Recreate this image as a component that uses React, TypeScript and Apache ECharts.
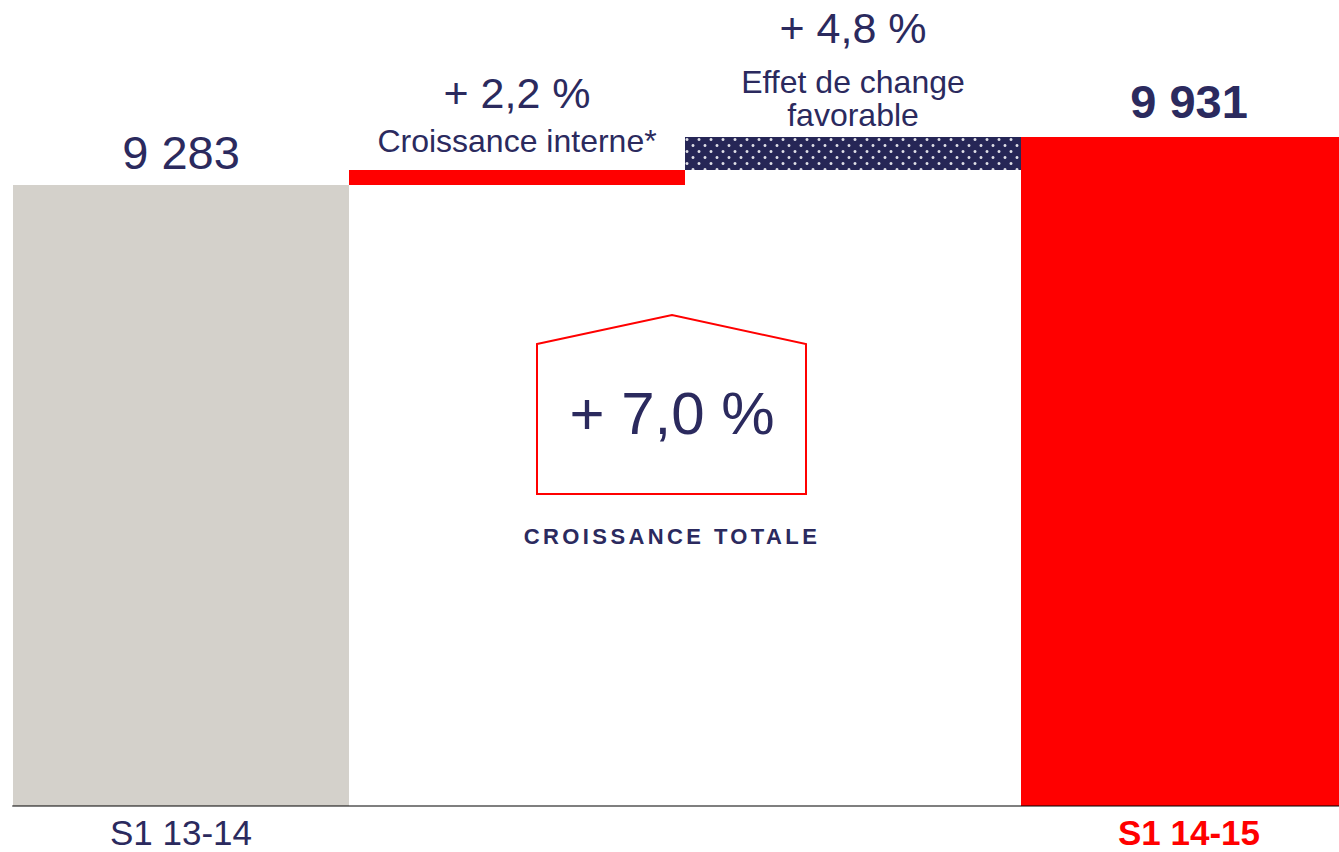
import React, { useEffect, useRef } from "react";
import * as echarts from "echarts";

const categories = ["S1 13-14", "", "", "S1 14-15"];
const barValues = [9283, 204, 444, 9931];
const isTotal = [true, false, false, true];
const pctLabels = ["9 283", "+ 2,2 %", "+ 4,8 %", "9 931"];
const subLabels = [[], ["Croissance interne*"], ["Effet de change", "favorable"], []];
const totalGrowth = "+ 7,0 %";
const totalGrowthCaption = "CROISSANCE TOTALE";

const NAVY = "#2B2A5E";
const RED = "#FF0000";
const GREY = "#D4D1CB";
const FONT = "'Liberation Sans', Arial, Helvetica, sans-serif";

export default function App() {
  const ref = useRef<HTMLDivElement>(null);

  useEffect(() => {
    document.body.style.margin = "0";
    document.body.style.overflow = "hidden";
    const chart = echarts.init(ref.current!, null, { renderer: "svg" });

    // invisible offsets for the floating (waterfall) bars
    const offsets: number[] = [];
    let running = 0;
    barValues.forEach((v, i) => {
      if (isTotal[i]) {
        offsets.push(0);
        running = v;
      } else {
        offsets.push(running);
        running += v;
      }
    });

    const itemStyles = [
      { color: GREY },
      { color: RED },
      {
        color: "#262656",
        decal: {
          symbol: "circle",
          symbolSize: 1,
          color: "rgba(255,255,255,0.85)",
          dashArrayX: [
            [5.4, 5.4],
            [0, 5.4, 5.4, 0],
          ],
          dashArrayY: [2.7, 2.8],
          rotation: 0,
        },
      },
      { color: RED },
    ];

    const labelCfg = [
      { show: true, position: "top", distance: 10, formatter: pctLabels[0], fontSize: 47, lineHeight: 46, color: NAVY, fontFamily: FONT },
      {
        show: true,
        position: "top",
        distance: 13,
        formatter: "{p|" + pctLabels[1] + "}\n" + subLabels[1].map((s) => "{s|" + s + "}").join("\n"),
        rich: {
          p: { fontSize: 43, lineHeight: 64, color: NAVY, fontFamily: FONT },
          s: { fontSize: 32, lineHeight: 32, color: NAVY, fontFamily: FONT },
        },
      },
      {
        show: true,
        position: "top",
        distance: 6,
        formatter: "{p|" + pctLabels[2] + "}\n" + subLabels[2].map((s) => "{s|" + s + "}").join("\n"),
        rich: {
          p: { fontSize: 43, lineHeight: 74, color: NAVY, fontFamily: FONT },
          s: { fontSize: 32, lineHeight: 33, color: NAVY, fontFamily: FONT },
        },
      },
      { show: true, position: "top", distance: 13, formatter: pctLabels[3], fontSize: 47, lineHeight: 46, fontWeight: "bold", color: NAVY, fontFamily: FONT },
    ];

    chart.setOption({
      animation: false,
      grid: { left: 13, right: 0, top: 132, bottom: 46, outerBoundsMode: "none", containLabel: false },
      xAxis: {
        type: "category",
        data: categories.map((c, i) =>
          i === categories.length - 1
            ? { value: c, textStyle: { color: RED, fontWeight: "bold" } }
            : { value: c, textStyle: { color: NAVY } }
        ),
        z: 5,
        axisTick: { show: false },
        axisLine: { lineStyle: { color: "rgba(0,0,0,0.5)", width: 2 } },
        axisLabel: { fontSize: 35, lineHeight: 28, margin: 12, fontFamily: FONT, interval: 0 },
      },
      yAxis: { type: "value", show: false, min: 900, max: 10000, splitLine: { show: false } },
      series: [
        {
          type: "bar",
          stack: "w",
          data: offsets,
          itemStyle: { color: "transparent" },
          barCategoryGap: "0%",
          silent: true,
        },
        {
          type: "bar",
          stack: "w",
          barCategoryGap: "0%",
          data: barValues.map((v, i) => ({ value: v, itemStyle: itemStyles[i], label: labelCfg[i] })),
        },
      ],
      graphic: [
        {
          type: "polygon",
          shape: { points: [[537, 344], [672, 315], [806, 344], [806, 494], [537, 494]] },
          style: { fill: "none", stroke: RED, lineWidth: 2 },
        },
        {
          type: "text",
          x: 672,
          y: 413,
          style: { text: totalGrowth, fill: NAVY, font: "60px " + FONT, textAlign: "center", textVerticalAlign: "middle" },
        },
        {
          type: "text",
          x: 672,
          y: 536,
          style: { text: totalGrowthCaption, fill: NAVY, font: "bold 22px " + FONT, textAlign: "center", textVerticalAlign: "middle" },
        },
      ],
    });

    const applySpacing = () => {
      ref.current?.querySelectorAll("text").forEach((t) => {
        if (t.textContent === totalGrowthCaption) {
          (t as SVGTextElement).style.letterSpacing = "3.4px";
        }
      });
    };
    applySpacing();
    chart.on("finished", applySpacing);

    return () => {
      chart.dispose();
    };
  }, []);

  return (
    <div style={{ width: 1339, height: 852, overflow: "hidden", position: "relative" }}>
      <div ref={ref} style={{ width: 1357, height: 852 }} />
    </div>
  );
}
